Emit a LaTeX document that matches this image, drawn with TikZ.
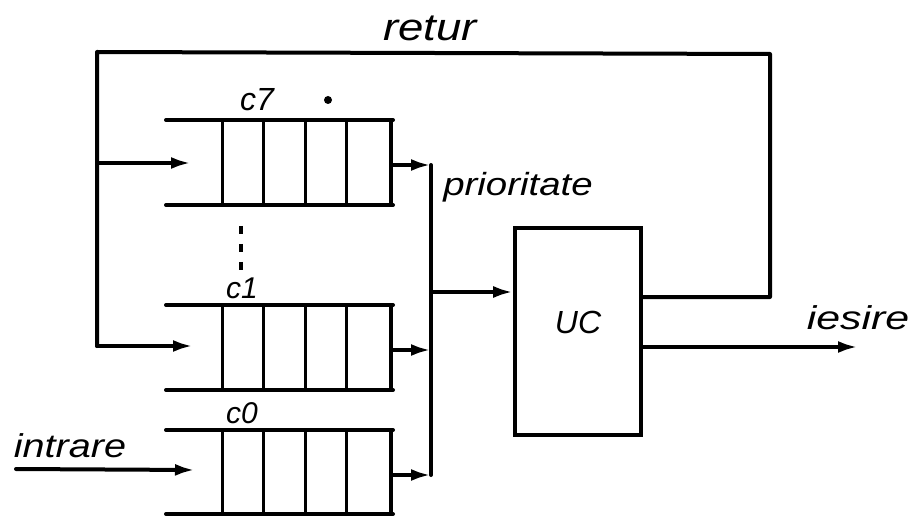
\documentclass[tikz,border=0pt]{standalone}
\usepackage{fontspec}
\setmainfont{Liberation Sans}
\usetikzlibrary{arrows.meta}
\begin{document}
\begin{tikzpicture}[x=0.5pt,y=-0.5pt,
  wire/.style={line width=2pt, line cap=round, line join=round},
  arr/.style={wire, -{Latex[length=10pt,width=6pt]}},
  cellline/.style={line width=1.5pt},
  rail/.style={line width=2pt, line cap=round},
  lbl/.style={inner sep=0pt, font=\itshape},
  qlbl/.style={lbl, font=\itshape\fontsize{15}{15}\selectfont},
]
\useasboundingbox (0,0) rectangle (915,518);

% ---- queues: cells and rails
\foreach \nm/\yt/\yb in {q7/120/205, q1/305/390, q0/430/514}{
  \draw[rail] (166,\yt) -- (393,\yt);
  \draw[rail] (166,\yb) -- (393,\yb);
  \foreach \xx in {222,263,305,346}{ \draw[cellline] (\xx,\yt) -- (\xx,\yb); }
  \draw[line width=2pt] (391,\yt) -- (391,\yb);
}
\coordinate (q7in) at (191,163);
\coordinate (q7out) at (391,165);
\coordinate (q1in) at (193,346);
\coordinate (q1out) at (391,350);
\coordinate (q0in) at (195,470);
\coordinate (q0out) at (391,475);

% ---- labels of queues
\node[qlbl, font=\itshape\fontsize{16}{16}\selectfont] (c7) at (257,100) {c7};
\node[qlbl] (c1) at (242,288) {c1};
\node[qlbl] (c0) at (242,413) {c0};
\fill (328,100) circle (2pt);
\draw[line width=2pt, dash pattern=on 4pt off 5pt] (241,226) -- (241,272);

% ---- central unit
\node[draw, line width=1.8pt, minimum width=63pt, minimum height=103.5pt, inner sep=0pt] (uc) at (578,331.5) {};
\node[lbl, font=\itshape\fontsize{16}{16}\selectfont] (uclbl) at (578,322) {UC};

% ---- priority bus
\coordinate (bt) at (431,165);
\coordinate (bb) at (431,475);
\coordinate (bm) at (431,292);
\draw[wire] (bt) -- (bb);
\draw[arr] (q7out) -- (bt);
\draw[arr] (q1out) -- (bt |- q1out);
\draw[arr] (q0out) -- (bb);
\draw[arr] (bm) -- (uc.west |- bm);

% ---- return loop
\coordinate (rb) at (770,297);
\coordinate (tr) at (770,54);
\coordinate (tl) at (97,52);
\coordinate (bl) at (97,346);
\draw[wire] (uc.east |- rb) -- (rb) -- (tr) -- (tl) -- (bl);
\draw[arr] (bl) -- (q1in);
\draw[arr] (tl |- q7in) -- (q7in);

% ---- input / output
\coordinate (inst) at (16,469);
\draw[arr] (inst) -- (q0in);
\coordinate (outend) at (858,347);
\draw[arr] (uc.east |- outend) -- (outend);

% ---- text labels
\node[lbl, font=\itshape\fontsize{19}{19}\selectfont] (retur) at (430,28) {\scalebox{1.2}[1]{retur}};
\node[lbl, font=\itshape\fontsize{16}{16}\selectfont] (prio) at (518,187) {\scalebox{1.2}[1]{prioritate}};
\node[lbl, font=\itshape\fontsize{16.5}{16.5}\selectfont] (iesire) at (858,318) {\scalebox{1.3}[1]{iesire}};
\node[lbl, font=\itshape\fontsize{16.5}{16.5}\selectfont] (intrare) at (70,446) {\scalebox{1.2}[1]{intrare}};
\end{tikzpicture}
\end{document}
